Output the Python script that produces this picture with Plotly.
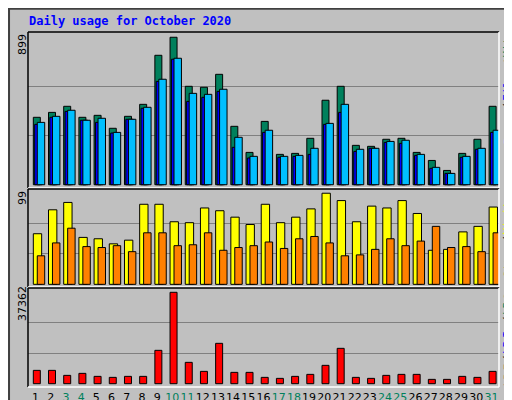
import plotly.graph_objects as go

days = list(range(1, 32))
day_labels = [str(d) for d in days]
weekend = [3, 4, 10, 11, 17, 18, 24, 25, 31]
hits = [411,441,478,411,423,344,417,490,789,899,600,594,673,356,197,386,185,191,283,515,600,240,234,277,283,197,148,87,191,277,478]
files = [380,417,454,393,405,319,399,472,643,771,557,551,582,289,173,332,173,179,222,374,490,216,222,264,271,185,106,69,173,222,332]
pages = [368,411,447,393,380,315,399,466,630,765,508,533,569,228,163,319,167,173,185,368,441,203,222,258,252,179,100,69,167,216,319]
visits = [55,81,89,51,49.5,44,48,87,87,68,67,83,80,73,65,87,67,73,82,99,91,68,85,83,91,77,37,38,57,63,84]
sites = [31,45,61,41,40,42,35.5,56,56,42,43,56,37,40,42,46,39,49.5,52,45,31,32,38,49.5,42,47,63,40,41,35.5,56]
kbytes = [5454,5454,3409,4227,3000,2591,3000,3000,13636,37362,8727,5045,16499,4636,4636,2591,2182,3000,3818,7500,14454,2591,2182,3409,3818,3818,1773,1773,3000,2591,5045]
max_hits, max_visits, max_kb = 899, 99, 37362

BG = "#C0C0C0"
fig = go.Figure()
def bar(y, color, off, w, ax):
    fig.add_trace(go.Bar(x=days, y=y, offset=off, width=w, marker=dict(color=color, line=dict(color="black", width=1)),
                         xaxis="x" + ax, yaxis="y" + ax, showlegend=False, hoverinfo="skip"))
bar(hits, "#00805C", -0.15, 0.46, "")
bar(pages, "#0000FF", -0.06, 0.49, "")
bar(files, "#00BFFF", 0.11, 0.49, "")
bar(visits, "#FFFF00", -0.15, 0.55, "2")
bar(sites, "#FF8000", 0.11, 0.49, "2")
bar(kbytes, "#FF0000", -0.15, 0.46, "3")

xd = [20/512, 491/512]
ticktext = [f"<span style='color:#00805C'>{l}</span>" if d in weekend else l for d, l in zip(days, day_labels)]
common_x = dict(range=[0.5, 31.5], domain=xd, showgrid=False, zeroline=False, fixedrange=True, automargin=False)
grid = dict(showgrid=True, gridcolor="#808080", gridwidth=1, zeroline=False, showticklabels=False, ticks="", automargin=False)
fig.update_layout(
    width=512, height=400, margin=dict(l=0, r=0, t=0, b=0), paper_bgcolor=BG, plot_bgcolor=BG,
    barmode="overlay", font=dict(family="DejaVu Sans", size=11, color="black"),
    xaxis=dict(**common_x, anchor="y", showticklabels=False),
    xaxis2=dict(**common_x, anchor="y2", showticklabels=False),
    xaxis3=dict(**common_x, anchor="y3", tickvals=days, ticktext=ticktext, ticks="", tickangle=0,
                tickfont=dict(size=11), ticklabelstandoff=2),
    yaxis=dict(**grid, domain=[0.55, 0.94], range=[-20, 931], tickvals=[max_hits/3, 2*max_hits/3], anchor="x"),
    yaxis2=dict(**grid, domain=[0.3025, 0.5475], range=[-2.9, 103.6], tickvals=[max_visits/3, 2*max_visits/3], anchor="x2"),
    yaxis3=dict(**grid, domain=[0.0525, 0.30], range=[-1350, 39122], tickvals=[max_kb/3, 2*max_kb/3], anchor="x3"),
)
shapes = [dict(type="rect", xref="paper", yref="paper", x0=0.002, y0=0.002, x1=0.998, y1=0.998, line=dict(color="#404040", width=2))]
for y0, y1 in [(0.55, 0.94), (0.3025, 0.5475), (0.0525, 0.30)]:
    shapes.append(dict(type="line", xref="paper", yref="paper", x0=xd[0], x1=xd[1], y0=y1, y1=y1, line=dict(color="black", width=1.5)))
    shapes.append(dict(type="line", xref="paper", yref="paper", x0=xd[0], x1=xd[0], y0=y0, y1=y1, line=dict(color="black", width=1.5)))
    shapes.append(dict(type="line", xref="paper", yref="paper", x0=xd[0], x1=xd[1], y0=y0, y1=y0, line=dict(color="white", width=1.5)))
    shapes.append(dict(type="line", xref="paper", yref="paper", x0=xd[1], x1=xd[1], y0=y0, y1=y1, line=dict(color="white", width=1.5)))
fig.update_layout(shapes=shapes)

mono = "DejaVu Sans Mono"
def ann(text, x, y, size=11, family="DejaVu Sans", color="black"):
    fig.add_annotation(text=text, x=x/512, y=1 - y/400, xref="paper", yref="paper", showarrow=False,
                       textangle=-90, font=dict(family=family, size=size, color=color),
                       xanchor="center", yanchor="middle")
fig.add_annotation(text="<b>Daily usage for October 2020</b>", x=19/512, y=1 - 13/400, xref="paper", yref="paper",
                   showarrow=False, xanchor="left", yanchor="middle", font=dict(family=mono, size=12, color="#0000FF"))
ann(str(max_hits), 14, 37)
ann(str(max_visits), 14, 190)
ann(str(max_kb), 14, 296)

def right_label(parts, y_bottom):
    # parts listed bottom-to-top; each word placed as its own rotated annotation
    cw = 6.6
    y = y_bottom
    for word, color in parts:
        h = len(word) * cw
        ann(word, 500, y - h / 2, family=mono, color=color)
        y -= h + 2
right_label([("Pages", "#00BFFF"), ("/", "black"), ("Files", "#0000FF"), ("/", "black"), ("Hits", "#00805C")], 137)
right_label([("Sites", "#FF8000"), ("/", "black"), ("Visits", "#FFFF00")], 270)
right_label([("kB", "#FF0000"), ("F", "#FF0000"), ("/", "black"), ("kB", "#0000FF"), ("In", "#0000FF"), ("/", "black"),
             ("kB", "#00805C"), ("Out", "#00805C")], 378)

fig.write_html("out.html")
